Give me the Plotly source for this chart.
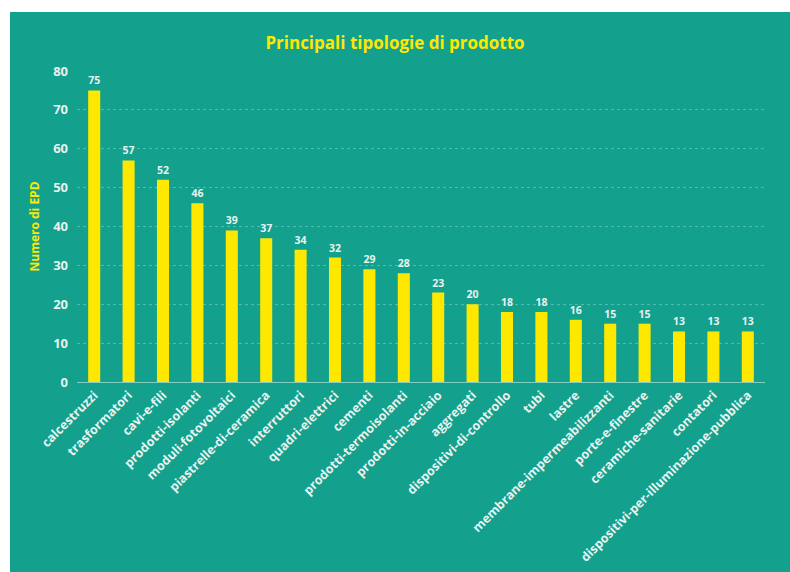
import plotly.graph_objects as go

categories = ["calcestruzzi", "trasformatori", "cavi-e-fili", "prodotti-isolanti",
              "moduli-fotovoltaici", "piastrelle-di-ceramica", "interruttori",
              "quadri-elettrici", "cementi", "prodotti-termoisolanti",
              "prodotti-in-acciaio", "aggregati", "dispositivi-di-controllo", "tubi",
              "lastre", "membrane-impermeabilizzanti", "porte-e-finestre",
              "ceramiche-sanitarie", "contatori", "dispositivi-per-illuminazione-pubblica"]
values = [75, 57, 52, 46, 39, 37, 34, 32, 29, 28, 23, 20, 18, 18, 16, 15, 15, 13, 13, 13]
y_ticks = [0, 10, 20, 30, 40, 50, 60, 70, 80]

TEAL = "#13A08D"
YELLOW = "#FFE800"
LABEL = "#E8F2EF"
FONT = "Open Sans"

fig = go.Figure(go.Bar(
    x=categories, y=values,
    marker=dict(color=YELLOW, line=dict(width=0)),
    text=[str(v) for v in values], textposition="outside",
    textfont=dict(color=LABEL, size=14, family=FONT, weight="bold"),
    cliponaxis=False,
))

L, R, T, B = 77, 25, 71, 190
W, H = 790, 572
pw, ph = W - L - R, H - T - B

fig.add_shape(type="rect", xref="paper", yref="paper", layer="below",
              x0=(10 - L) / pw, x1=(W - L) / pw,
              y0=-(B) / ph, y1=(H - B - 12) / ph,
              fillcolor=TEAL, line=dict(width=0))

fig.update_layout(
    width=W, height=H,
    margin=dict(l=L, r=R, t=T, b=B),
    paper_bgcolor="white", plot_bgcolor=TEAL,
    bargap=0.65,
    showlegend=False,
    title=dict(text="Principali tipologie di prodotto", x=0.5, xref="container",
               y=1 - 43 / H, yref="container", yanchor="middle", xanchor="center",
               font=dict(color=YELLOW, size=17, family=FONT, weight="bold")),
    font=dict(family=FONT, color=LABEL),
    xaxis=dict(tickangle=-45, tickfont=dict(size=12.5, color=LABEL, family=FONT, weight="bold"),
               showgrid=False, showline=True, linecolor="#7fcfc3", linewidth=1,
               ticks="", ticklen=0, automargin=False),
    yaxis=dict(range=[0, 80], tickvals=y_ticks, tickfont=dict(size=13, color=LABEL, family=FONT, weight="bold"),
               showgrid=True, gridcolor="#4dbdae", gridwidth=1, griddash="dot",
               zeroline=False, showline=False, ticks="", ticklabelstandoff=8, automargin=False,
               title=dict(text="Numero di EPD", standoff=10,
                          font=dict(color=YELLOW, size=12, family=FONT, weight="bold"))),
)

fig.write_html("out.html")
